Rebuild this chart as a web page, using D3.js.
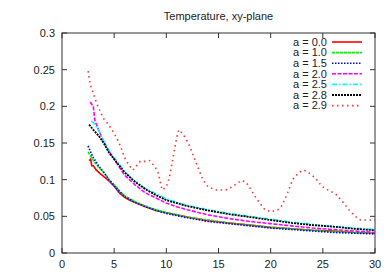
<!DOCTYPE html>
<html>
<head>
<meta charset="utf-8">
<script src="https://cdn.jsdelivr.net/npm/d3@7"></script>
<style>
  body { margin: 0; background: #fff; }
  text { font-family: "Liberation Sans", Arial, sans-serif; fill: #222; }
</style>
</head>
<body>
<div id="chart"></div>
<script>
var title = 'Temperature, xy-plane'
var xTicks = [0, 5, 10, 15, 20, 25, 30]
var yTicks = [0, 0.05, 0.1, 0.15, 0.2, 0.25, 0.3]
var labels = ['a = 0.0', 'a = 1.0', 'a = 1.5', 'a = 2.0', 'a = 2.5', 'a = 2.8', 'a = 2.9']

var a00 = [[2.6,.126],[2.75,.128],[2.85,.119],[3,.119],[3.3,.113],[3.6,.109],[4.1,.103],[4.6,.097],[5,.091],[5.5,.082],[6,.076],[6.5,.072],[7,.069],[8,.063],[9,.058],[10,.055],[11,.052],[12,.049],[14,.044],[16,.041],[18,.038],[20,.035],[22,.033],[24,.031],[26,.030],[28,.028],[30,.027]]
var a10 = [[2.5,.138],[3,.126],[3.5,.117],[4,.110],[4.5,.100],[5,.093],[5.5,.085],[6,.078],[7,.070],[8,.064],[9,.059],[10,.055],[11,.052],[12,.049],[14,.045],[16,.041],[18,.038],[20,.035],[22,.033],[24,.031],[26,.029],[28,.028],[30,.027]]
var a15 = [[2.5,.146],[2.8,.136],[3,.130],[3.5,.119],[4,.110],[4.5,.100],[5,.092],[5.5,.084],[6,.077],[7,.069],[8,.063],[9,.058],[10,.054],[11,.051],[12,.048],[14,.043],[16,.040],[18,.037],[20,.034],[22,.032],[24,.030],[26,.028],[28,.027],[30,.026]]
var a20 = [[2.7,.206],[3,.200],[3.15,.181],[3.5,.168],[4,.152],[4.5,.139],[5,.128],[5.5,.117],[6,.106],[7,.093],[8,.082],[9,.075],[10,.068],[11,.063],[12,.059],[14,.052],[16,.047],[18,.043],[20,.040],[22,.037],[24,.034],[26,.032],[28,.030],[30,.028]]
var a25 = [[2.8,.180],[3,.178],[3.3,.172],[3.6,.165],[4,.153],[4.5,.140],[5,.130],[6,.111],[7,.098],[8,.088],[9,.081],[10,.074],[11,.069],[12,.065],[14,.059],[16,.054],[18,.050],[20,.046],[22,.042],[24,.039],[26,.036],[28,.034],[30,.032]]
var a28 = [[2.6,.175],[3,.168],[3.5,.160],[4,.150],[4.5,.137],[5,.128],[5.5,.119],[6,.110],[7,.097],[8,.087],[9,.079],[10,.072],[11,.068],[12,.064],[14,.058],[16,.053],[18,.049],[20,.045],[22,.041],[24,.038],[26,.036],[28,.033],[30,.031]]
var a29 = [[2.5,.248],[2.7,.230],[3,.218],[3.3,.205],[3.6,.195],[4,.183],[4.4,.176],[4.8,.168],[5.2,.158],[5.6,.146],[6,.130],[6.4,.120],[6.8,.113],[7.1,.118],[7.5,.125],[8,.125],[8.4,.126],[8.9,.118],[9.2,.110],[9.6,.086],[10,.090],[10.3,.103],[10.6,.127],[11,.158],[11.2,.168],[11.6,.162],[12.1,.150],[12.5,.136],[13,.118],[13.5,.100],[14,.090],[14.8,.086],[15.7,.086],[16.4,.091],[17.2,.099],[17.6,.097],[18.1,.087],[18.6,.075],[19.4,.060],[20,.056],[20.7,.059],[21.1,.065],[21.6,.081],[22.1,.100],[22.7,.110],[23.2,.113],[23.7,.109],[24.3,.102],[24.9,.091],[25.6,.085],[26.2,.081],[26.9,.070],[27.5,.059],[28.1,.050],[28.6,.045],[29.4,.045],[30,.045]]

var series = [
  {name: labels[0], data: a00, color: '#ff0000', dash: null, width: 1.6},
  {name: labels[1], data: a10, color: '#00ee00', dash: '3,1', width: 1.6},
  {name: labels[2], data: a15, color: '#0000ff', dash: '1.5,1.5', width: 1.6},
  {name: labels[3], data: a20, color: '#ff00ff', dash: '4,1.5', width: 1.6},
  {name: labels[4], data: a25, color: '#00ffff', dash: '5,2,1.5,2', width: 1.6},
  {name: labels[5], data: a28, color: '#000000', dash: '2,1', width: 1.8},
  {name: labels[6], data: a29, color: '#ff3030', dash: '1.5,3.5', width: 1.6}
]

var width = 391, height = 274
var margin = {left: 62, right: 16, top: 33, bottom: 21}
var w = width - margin.left - margin.right
var h = height - margin.top - margin.bottom

var svg = d3.select('#chart').append('svg')
  .attr('width', width).attr('height', height)

var x = d3.scaleLinear().domain([0, 30]).range([0, w])
var y = d3.scaleLinear().domain([0, 0.3]).range([h, 0])

var g = svg.append('g').attr('transform', 'translate(' + margin.left + ',' + margin.top + ')')

svg.append('text')
  .attr('x', margin.left + w / 2).attr('y', 20)
  .attr('text-anchor', 'middle').style('font-size', '11px')
  .text(title)

// ticks, inward and mirrored like gnuplot
var tl = 5
xTicks.forEach(function(t){
  g.append('line').attr('x1', x(t)).attr('x2', x(t)).attr('y1', h).attr('y2', h - tl).attr('stroke', '#333')
  g.append('line').attr('x1', x(t)).attr('x2', x(t)).attr('y1', 0).attr('y2', tl).attr('stroke', '#333')
  g.append('text').attr('x', x(t)).attr('y', h + 15)
    .attr('text-anchor', 'middle').style('font-size', '11px').text(t)
})
yTicks.forEach(function(t){
  g.append('line').attr('x1', 0).attr('x2', tl).attr('y1', y(t)).attr('y2', y(t)).attr('stroke', '#333')
  g.append('line').attr('x1', w).attr('x2', w - tl).attr('y1', y(t)).attr('y2', y(t)).attr('stroke', '#333')
  g.append('text').attr('x', -7).attr('y', y(t)).attr('dy', '0.35em')
    .attr('text-anchor', 'end').style('font-size', '11px').text(d3.format('')(t))
})

var line = d3.line().x(d => x(d[0])).y(d => y(d[1]))

g.selectAll('path.s').data(series).join('path')
  .attr('class', 's')
  .attr('d', d => line(d.data))
  .attr('fill', 'none')
  .attr('stroke', d => d.color)
  .attr('stroke-width', d => d.width)
  .attr('stroke-dasharray', d => d.dash)

g.append('rect').attr('width', w).attr('height', h)
  .attr('fill', 'none').attr('stroke', '#333').attr('stroke-width', 1)

// legend
var leg = g.selectAll('g.leg').data(series).join('g')
  .attr('class', 'leg')
  .attr('transform', (d, i) => 'translate(0,' + (9 + i * 10.6) + ')')
leg.append('text').attr('x', w - 48).attr('dy', '0.35em')
  .attr('text-anchor', 'end').style('font-size', '11px').text(d => d.name)
leg.append('line').attr('x1', w - 43).attr('x2', w - 13)
  .attr('stroke', d => d.color).attr('stroke-width', d => d.width)
  .attr('stroke-dasharray', d => d.dash)
</script>
</body>
</html>
